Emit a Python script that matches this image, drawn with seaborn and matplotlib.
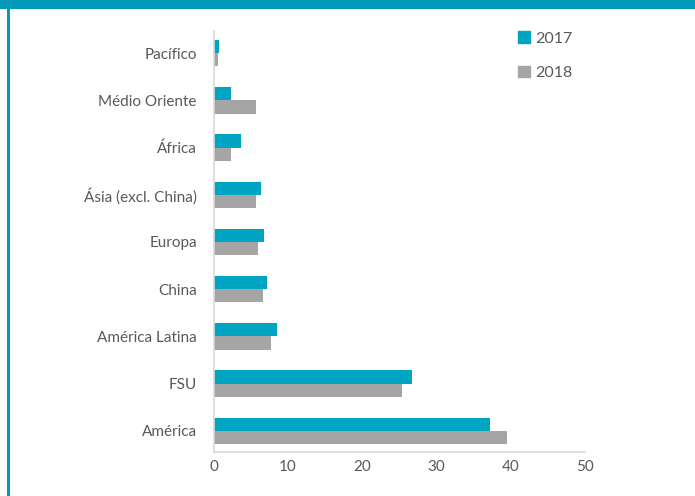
import pandas as pd
import matplotlib.pyplot as plt
import seaborn as sns
from matplotlib.patches import Rectangle, Patch


# =========================
# Data
# =========================

regions = [
    "Pacífico", "Médio Oriente", "África", "Ásia (excl. China)", "Europa",
    "China", "América Latina", "FSU", "América",
]
years = ["2017", "2018"]
values_2017 = [0.8, 2.35, 3.7, 6.45, 6.8, 7.2, 8.55, 26.7, 37.2]
values_2018 = [0.6, 5.7, 2.35, 5.7, 6.0, 6.6, 7.8, 25.4, 39.5]
x_ticks = [0, 10, 20, 30, 40, 50]

data = pd.DataFrame({
    "region": regions * 2,
    "year": [years[0]] * len(regions) + [years[1]] * len(regions),
    "value": values_2017 + values_2018,
})

colors = {"2017": "#00A5C4", "2018": "#A5A5A5"}
text_color = "#595959"
border_color = "#0099B8"


# =========================
# Plot
# =========================

sns.set_style("white")
plt.rcParams["font.family"] = ["Lato", "DejaVu Sans"]

fig = plt.figure(figsize=(6.95, 4.96), dpi=100)
ax = fig.add_axes([213.5 / 695, 1 - 452 / 496, (585 - 213.5) / 695, (452 - 31) / 496])

sns.barplot(
    data=data,
    y="region",
    x="value",
    hue="year",
    order=regions,
    hue_order=years,
    palette=colors,
    orient="h",
    width=0.56,
    gap=0,
    saturation=1,
    linewidth=0,
    legend=False,
    ax=ax,
)

ax.set_xlim(0, 50)
ax.set_ylim(8.45, -0.47)
ax.set_xticks(x_ticks)
ax.set_xlabel("")
ax.set_ylabel("")

for side in ["top", "right"]:
    ax.spines[side].set_visible(False)
for side in ["left", "bottom"]:
    ax.spines[side].set_color("#D9D9D9")
    ax.spines[side].set_linewidth(1.2)

ax.tick_params(axis="both", length=0, colors=text_color, labelsize=11)
ax.tick_params(axis="y", pad=12)
ax.tick_params(axis="x", pad=6)

handles = [Patch(color=colors[y], label=y) for y in years]
fig.legend(
    handles=handles,
    loc="upper left",
    bbox_to_anchor=(504 / 695, 1 - 17 / 496),
    frameon=False,
    handlelength=0.7,
    handleheight=0.7,
    handletextpad=0.35,
    labelspacing=1.25,
    fontsize=11.5,
    labelcolor=text_color,
)

# frame: teal band on top and line on the left
fig.add_artist(Rectangle((0, 1 - 9 / 496), 1, 9 / 496, transform=fig.transFigure,
                         color=border_color, lw=0))
fig.add_artist(Rectangle((7 / 695, 0), 2.5 / 695, 1, transform=fig.transFigure,
                         color=border_color, lw=0))

plt.savefig("out.png", dpi=100)
plt.close()
